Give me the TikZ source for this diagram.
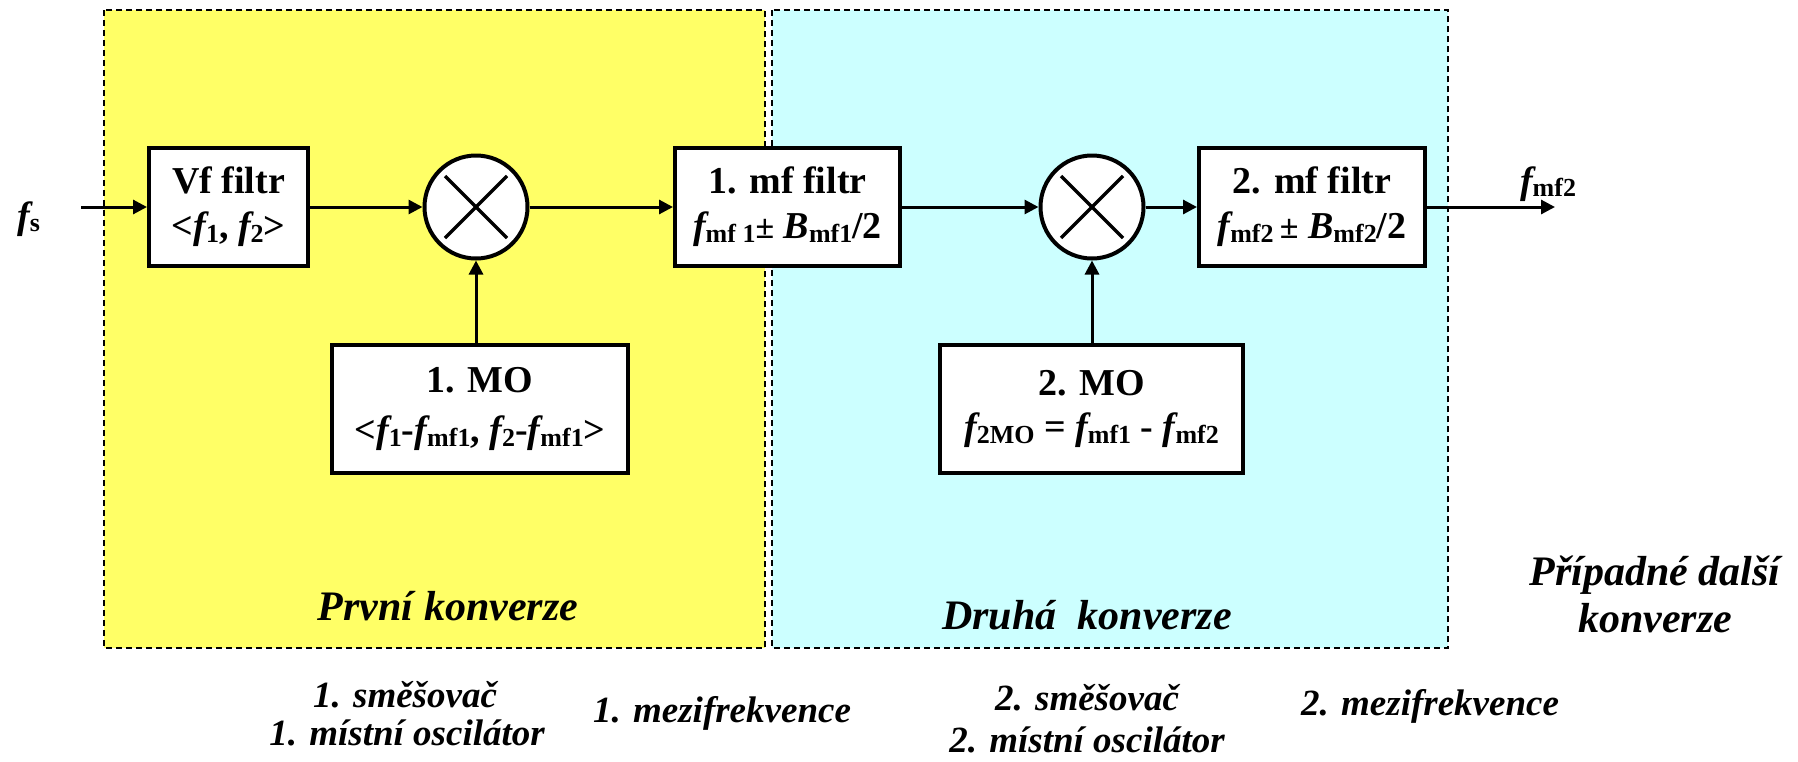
\documentclass[tikz,border=0pt]{standalone}
\usepackage{fontspec}
\setmainfont{Liberation Serif}
\usetikzlibrary{arrows.meta,calc}
\definecolor{yel}{HTML}{FFFF66}
\definecolor{cyn}{HTML}{CCFFFF}
\newcommand\ff{{\itshape f}}
\newcommand\fB{{\itshape B}}
\newcommand\sbx[1]{\raisebox{-0.1em}{\fontsize{26}{26}\selectfont #1}}
\begin{document}
\begin{tikzpicture}[x=1pt,y=-1pt,
  blk/.style={draw, line width=4pt, fill=white, inner sep=0pt, align=center, font=\fontsize{38}{45}\selectfont\bfseries},
  mix/.style={draw, circle, line width=4pt, fill=white, minimum size=103pt, inner sep=0pt},
  conn/.style={line width=3pt, -{Triangle[length=14pt,width=14pt]}},
  cross/.style={line width=3.5pt},
  zone/.style={line width=2pt, dash pattern=on 6pt off 4pt},
  lbl/.style={anchor=base, inner sep=0pt, font=\fontsize{38}{38}\selectfont\bfseries},
  zlbl/.style={anchor=base, inner sep=0pt, font=\fontsize{42}{47}\selectfont\bfseries\itshape},
  blbl/.style={anchor=base, inner sep=0pt, font=\fontsize{37}{36}\selectfont\bfseries\itshape},
]
\useasboundingbox (0,0) rectangle (1798,761);
\fill[white] (0,0) rectangle (1798,761);
\draw[zone, fill=yel] (104,10) rectangle (765,648);
\draw[zone, fill=cyn] (772,10) rectangle (1448,648);

\node[blk, minimum width=159pt, minimum height=118pt] (vf) at (228.5,207) {Vf filtr\\<\ff\sbx{1}, \ff\sbx{2}>};
\node[mix] (m1) at (476,207) {};
\node[blk, minimum width=225pt, minimum height=118pt] (mf1) at (787.5,207) {1. mf filtr\\\ff\sbx{mf 1}{\fontsize{34}{34}\selectfont±} \fB\sbx{mf1}/2};
\node[mix] (m2) at (1092,207) {};
\node[blk, minimum width=226pt, minimum height=118pt] (mf2) at (1312,207) {2. mf filtr\\\ff\sbx{mf2}\,{\fontsize{34}{34}\selectfont±} \fB\sbx{mf2}/2};
\node[blk, minimum width=296pt, minimum height=128pt, font=\fontsize{38}{50}\selectfont\bfseries] (mo1) at (480,409) {1. MO\\<\ff\sbx{1}-\ff\sbx{mf1},\ \ff\sbx{2}-\ff\sbx{mf1}>};
\node[blk, minimum width=303pt, minimum height=128pt, font=\fontsize{38}{44}\selectfont\bfseries] (mo2) at (1091.5,409) {2. MO\\\ff\sbx{2MO} = \ff\sbx{mf1} - \ff\sbx{mf2}};

\draw[cross] ($(m1.center)+(-31,-31)$) -- ($(m1.center)+(31,31)$);
\draw[cross] ($(m1.center)+(-31,31)$) -- ($(m1.center)+(31,-31)$);
\draw[cross] ($(m2.center)+(-31,-31)$) -- ($(m2.center)+(31,31)$);
\draw[cross] ($(m2.center)+(-31,31)$) -- ($(m2.center)+(31,-31)$);

\coordinate (in) at (81,207);
\coordinate (out) at (1555,207);
\draw[conn] (in) -- (vf);
\draw[conn] (vf) -- (m1);
\draw[conn] (m1) -- (mf1);
\draw[conn] (mf1) -- (m2);
\draw[conn] (m2) -- (mf2);
\draw[conn] (mf2.east) -- (out);
\draw[conn] (m1 |- mo1.north) -- (m1);
\draw[conn] (m2 |- mo2.north) -- (m2);

\node[lbl] (fs) at (28.5,228) {\ff\sbx{s}};
\node[lbl] (fo) at (1548,193) {\ff\sbx{mf2}};

\node[zlbl] (z1) at (448,620) {První konverze};
\node[zlbl] (z2) at (1087,629) {Druhá\ \ konverze};
\node[zlbl] (z3a) at (1655,585) {Případné další};
\node[zlbl] (z3b) at (1655,632) {konverze};

\node[blbl] (b1a) at (405,707) {1. směšovač};
\node[blbl] (b1b) at (407,745) {1. místní oscilátor};
\node[blbl] (b2) at (722,722) {1. mezifrekvence};
\node[blbl] (b3a) at (1087,710) {2. směšovač};
\node[blbl] (b3b) at (1087,752) {2. místní oscilátor};
\node[blbl] (b4) at (1430,715) {2. mezifrekvence};
\end{tikzpicture}
\end{document}
